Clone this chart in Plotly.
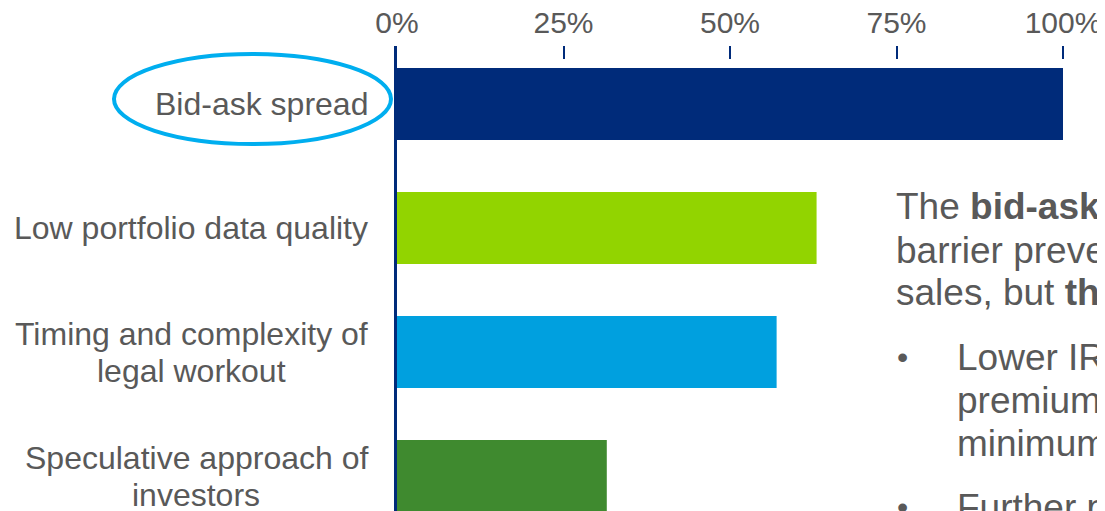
import plotly.graph_objects as go

categories = ["Bid-ask spread", "Low portfolio data quality",
              "Timing and complexity of<br>legal workout",
              "Speculative approach of<br>investors"]
values = [100, 63, 57, 31.5]
bar_colors = ["#002b7a", "#92d400", "#00a0df", "#3f8a2f"]
tick_vals = [0, 25, 50, 75, 100]
tick_text = ["0%", "25%", "50%", "75%", "100%"]

GREY = "#595959"
NAVY = "#002b7a"
FONT = "Liberation Sans, Arial, sans-serif"

# page offset (browser body margin)
OX, OY = 7, 8
W, H = 1105, 511
ML = 396 - OX          # y-axis line at screen x=396
MT = 46 - OY           # plot top at screen y=46
PW = W - ML
PH = H - MT
px_per_unit = 666 / 100.0


def pxx(sx):
    return (sx - OX - ML) / PW


def pxy(sy):
    return (H - (sy - OY)) / PH


# Arial / Liberation Sans advance widths (per 1000 em) for label centring
AW = {" ": 278, "-": 333, "B": 667, "L": 556, "S": 667, "T": 611,
      "a": 556, "b": 556, "c": 500, "d": 556, "e": 556, "f": 278, "g": 556,
      "h": 556, "i": 222, "j": 222, "k": 500, "l": 222, "m": 833, "n": 556,
      "o": 556, "p": 556, "q": 556, "r": 333, "s": 500, "t": 278, "u": 556,
      "v": 500, "w": 722, "x": 500, "y": 500, "z": 500}


def text_w(s, size):
    return sum(AW.get(ch, 556) for ch in s) * size / 1000.0


fig = go.Figure()
fig.add_trace(go.Bar(
    y=categories, x=values, orientation="h",
    marker=dict(color=bar_colors, line=dict(width=0)),
    width=0.58, hoverinfo="skip"
))

# category labels: block right-aligned at x=367, lines centred within the block
LABEL_SIZE = 32
LINE_GAP = 37
RIGHT = 367
for c in categories:
    parts = c.split("<br>")
    n = len(parts)
    bw = max(text_w(p, LABEL_SIZE) for p in parts)
    cx = RIGHT - bw / 2
    for i, p in enumerate(parts):
        off = (i - (n - 1) / 2) * LINE_GAP
        fig.add_annotation(
            x=pxx(cx), xref="paper", y=c, yref="y",
            text=p, showarrow=False, xanchor="center", yanchor="middle",
            yshift=-off,
            font=dict(family=FONT, size=LABEL_SIZE, color=GREY)
        )

# ellipse highlight around first label
fig.add_shape(
    type="circle", xref="paper", yref="paper",
    x0=pxx(113), x1=pxx(390),
    y0=pxy(144), y1=pxy(54),
    line=dict(color="#00aeef", width=4), fillcolor="rgba(0,0,0,0)", layer="above"
)

# right-hand commentary text (clipped at canvas edge)
txt_font = dict(family=FONT, size=37, color=GREY)
lines = [
    (893, 207, "The <b>bid-ask spread</b> is the main"),
    (893, 250, "barrier preventing NPL"),
    (893, 292, "sales, but <b>there are</b>"),
    (954, 357, "Lower IRR expectations"),
    (954, 400, "premium reductions and"),
    (954, 443, "minimum thresholds"),
    (954, 507, "Further pressure"),
]
for x, y, t in lines:
    fig.add_annotation(x=pxx(x), xref="paper", y=pxy(y), yref="paper",
                       text=t, showarrow=False, xanchor="left", yanchor="middle",
                       font=txt_font)
for y in [357, 507]:
    fig.add_annotation(x=pxx(901), xref="paper", y=pxy(y), yref="paper",
                       text="•", showarrow=False, xanchor="center", yanchor="middle",
                       font=dict(family=FONT, size=32, color=GREY))

cat0_fig_y = 104 - OY
y_top = -(cat0_fig_y - MT) / 124.0
y_bot = (H - cat0_fig_y) / 124.0

fig.update_layout(
    width=W, height=H,
    margin=dict(l=ML, r=0, t=MT, b=0, pad=0, autoexpand=False),
    paper_bgcolor="white", plot_bgcolor="white",
    showlegend=False,
    font=dict(family=FONT, color=GREY),
    xaxis=dict(
        side="top", range=[0, PW / px_per_unit],
        tickvals=tick_vals, ticktext=tick_text,
        ticks="inside", ticklen=13, tickwidth=2, tickcolor=NAVY,
        showgrid=False, zeroline=False, showline=False,
        tickfont=dict(family=FONT, size=30, color=GREY),
        ticklabelstandoff=6, automargin=False,
        fixedrange=True,
    ),
    yaxis=dict(
        type="category", range=[y_bot, y_top],
        showticklabels=False, ticks="",
        showgrid=False, zeroline=False,
        showline=True, linecolor=NAVY, linewidth=3,
        automargin=False, fixedrange=True,
    ),
)

fig.write_html("out.html")
